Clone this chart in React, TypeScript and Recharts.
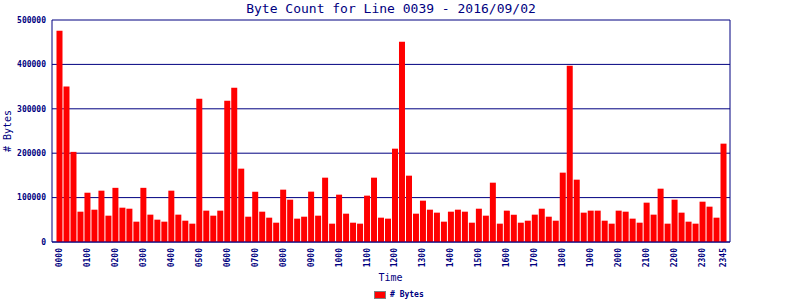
import { BarChart, Bar, XAxis, YAxis, CartesianGrid } from 'recharts';

const NAVY = '#000080';
const FONT = '"DejaVu Sans Mono", monospace';

// every 15 minutes, 0000..2345
const times: string[] = [];
for (let h = 0; h < 24; h++) {
  for (const m of ['00', '15', '30', '45']) times.push(`${String(h).padStart(2, '0')}${m}`);
}

const bytes = [
  476000, 350000, 203000, 68300, 111000, 72800, 115600, 59300,
  122000, 77300, 75000, 45800, 122000, 61600, 50300, 45800,
  115600, 61600, 48000, 41300, 322800, 70600, 59300, 70600,
  318300, 347600, 165200, 57000, 113400, 68300, 54800, 43500,
  117900, 95300, 52600, 57000, 113400, 59300, 144900, 41300,
  106600, 63800, 43500, 41300, 104400, 144900, 54800, 52600,
  210200, 451200, 149400, 63800, 93100, 72800, 66100, 45800,
  68300, 72800, 68300, 43500, 75000, 59300, 133600, 41300,
  70600, 61600, 43500, 48000, 61600, 75000, 57000, 48000,
  156200, 397100, 140400, 66100, 70600, 70600, 48000, 41300,
  70600, 68300, 52600, 43500, 88600, 61600, 120100, 41300,
  95300, 66100, 45800, 41300, 90800, 79600, 54800, 221500,
];

const tickLabels = [
  '0000', '0100', '0200', '0300', '0400', '0500', '0600', '0700', '0800', '0900', '1000', '1100',
  '1200', '1300', '1400', '1500', '1600', '1700', '1800', '1900', '2000', '2100', '2200', '2300', '2345',
];
const yTicks = [0, 100000, 200000, 300000, 400000, 500000];

const data = times.map((t, i) => ({ time: t, bytes: bytes[i] }));
const shown = new Set(tickLabels);

const XTick = ({ x, y, payload }: any) => {
  if (!shown.has(payload.value)) return null;
  return (
    <text
      x={x}
      y={y}
      transform={`rotate(-90 ${x} ${y})`}
      textAnchor="end"
      dominantBaseline="central"
      fill={NAVY}
      fontFamily={FONT}
      fontWeight="bold"
      fontSize={8}
    >
      {payload.value}
    </text>
  );
};

export default function App() {
  return (
    <div style={{ position: 'absolute', left: 0, top: 0, width: 800, height: 300, background: '#fff', fontFamily: FONT }}>
      <BarChart width={800} height={300} data={data} margin={{ top: 20, right: 69, bottom: 0, left: 0 }} barCategoryGap={0.5}>
        <CartesianGrid vertical={false} stroke={NAVY} strokeWidth={1} />
        <XAxis
          dataKey="time"
          interval={0}
          tick={<XTick />}
          tickLine={false}
          tickMargin={0}
          height={58}
          padding={{ left: 4, right: 3 }}
          axisLine={{ stroke: NAVY }}
        />
        <YAxis
          domain={[0, 500000]}
          ticks={yTicks}
          width={52}
          tickLine={false}
          axisLine={{ stroke: NAVY }}
          tick={{ fill: NAVY, fontFamily: FONT, fontWeight: 'bold', fontSize: 8 }}
          tickMargin={0}
        />
        <YAxis yAxisId="r" orientation="right" width={1} tick={false} tickLine={false} axisLine={{ stroke: NAVY }} />
        <Bar dataKey="bytes" fill="#ff0000" isAnimationActive={false} />
      </BarChart>
      <div style={{ position: 'absolute', left: 0, width: 782, top: 1, textAlign: 'center', color: NAVY, fontSize: 13, lineHeight: '15px' }}>
        Byte Count for Line 0039 - 2016/09/02
      </div>
      <div style={{ position: 'absolute', left: 8, top: 131, color: NAVY, fontSize: 10, lineHeight: '10px', transform: 'translate(-50%, -50%) rotate(-90deg)', whiteSpace: 'nowrap' }}>
        # Bytes
      </div>
      <div style={{ position: 'absolute', left: 0, width: 781, top: 272, textAlign: 'center', color: NAVY, fontSize: 10, lineHeight: '12px' }}>
        Time
      </div>
      <div style={{ position: 'absolute', left: 374, top: 290, display: 'flex', alignItems: 'center', gap: 4, color: NAVY, fontSize: 8, fontWeight: 'bold', lineHeight: '10px' }}>
        <span style={{ display: 'inline-block', width: 10, height: 6, background: '#ff0000', border: '1px solid #808080' }} />
        <span># Bytes</span>
      </div>
    </div>
  );
}
